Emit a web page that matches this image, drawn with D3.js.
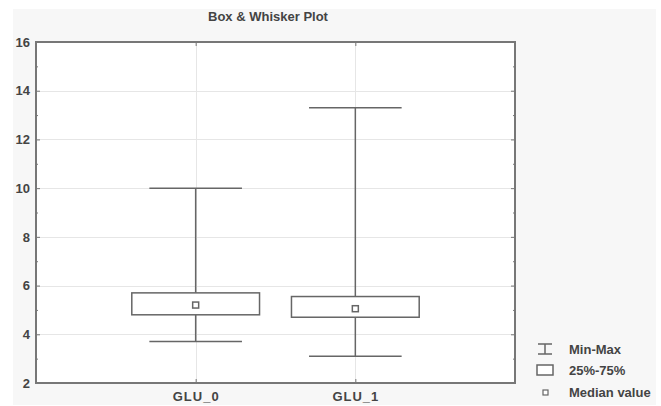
<!DOCTYPE html>
<html>
<head>
<meta charset="utf-8">
<script src="https://cdn.jsdelivr.net/npm/d3@7"></script>
<style>
  html, body { margin: 0; padding: 0; background: #ffffff; }
  svg { display: block; }
  text { font-family: "Liberation Sans", Arial, sans-serif; fill: #444; }
</style>
</head>
<body>
<svg id="chart" width="661" height="406"></svg>
<script>
// Summary statistics per variable
const categories = ["GLU_0", "GLU_1"];
const minValues = [3.7, 3.1];
const q1Values = [4.8, 4.7];
const medianValues = [5.2, 5.05];
const q3Values = [5.7, 5.55];
const maxValues = [10.0, 13.3];
const yTicks = [2, 4, 6, 8, 10, 12, 14, 16];
const yMinorTicks = [3, 5, 7, 9, 11, 13, 15];
const legendLabels = ["Min-Max", "25%-75%", "Median value"];

const svg = d3.select("#chart");
const plot = { left: 36, top: 42, right: 515, bottom: 383 };
const textColor = "#505050";

// Panel background
svg.append("rect").attr("x", 13).attr("y", 9).attr("width", 643).attr("height", 396)
  .attr("fill", "#f7f7f7");
svg.append("rect").attr("x", plot.left).attr("y", plot.top)
  .attr("width", plot.right - plot.left).attr("height", plot.bottom - plot.top)
  .attr("fill", "#ffffff");

const x = d3.scalePoint().domain(categories).range([plot.left, plot.right]).padding(1);
const y = d3.scaleLinear().domain([2, 16]).range([plot.bottom, plot.top]);
const step = x.step();
const boxHalf = step * 0.4;
const capHalf = step * 0.29;

// Grid
const grid = svg.append("g").attr("stroke", "#e6e6e6").attr("stroke-width", 1);
grid.selectAll("line.h").data(yTicks.slice(1, -1)).join("line")
  .attr("x1", plot.left).attr("x2", plot.right)
  .attr("y1", d => Math.round(y(d)) + 0.5).attr("y2", d => Math.round(y(d)) + 0.5);
grid.selectAll("line.v").data(categories).join("line")
  .attr("x1", d => Math.round(x(d)) + 0.5).attr("x2", d => Math.round(x(d)) + 0.5)
  .attr("y1", plot.top).attr("y2", plot.bottom);

// Axes (ticks pointing inward)
const yAxisL = d3.axisLeft(y).tickValues(yTicks).tickSize(-4).tickPadding(6).tickFormat(d3.format("d"));
const gL = svg.append("g").attr("transform", `translate(${plot.left},0)`).call(yAxisL);
const yAxisR = d3.axisRight(y).tickValues(yTicks).tickSize(-4).tickFormat("");
const gR = svg.append("g").attr("transform", `translate(${plot.right},0)`).call(yAxisR);
const minorL = d3.axisLeft(y).tickValues(yMinorTicks).tickSize(-2).tickFormat("");
const gmL = svg.append("g").attr("transform", `translate(${plot.left},0)`).call(minorL);
const minorR = d3.axisRight(y).tickValues(yMinorTicks).tickSize(-2).tickFormat("");
const gmR = svg.append("g").attr("transform", `translate(${plot.right},0)`).call(minorR);
const xAxisB = d3.axisBottom(x).tickSize(-4).tickPadding(9);
const gB = svg.append("g").attr("transform", `translate(0,${plot.bottom})`).call(xAxisB);
const xAxisT = d3.axisTop(x).tickSize(-4).tickFormat("");
const gT = svg.append("g").attr("transform", `translate(0,${plot.top})`).call(xAxisT);

[gL, gR, gmL, gmR, gB, gT].forEach(g => {
  g.select(".domain").remove();
  g.selectAll(".tick line").attr("stroke", "#777").attr("stroke-width", 1);
  g.selectAll("text").attr("font-size", 13).attr("font-weight", "bold").attr("fill", textColor)
    .style("font-family", "'Liberation Sans', Arial, sans-serif");
});
gB.selectAll("text").style("letter-spacing", "1px");

// Frame
svg.append("rect").attr("x", plot.left).attr("y", plot.top)
  .attr("width", plot.right - plot.left).attr("height", plot.bottom - plot.top)
  .attr("fill", "none").attr("stroke", "#777").attr("stroke-width", 2);

// Boxes
const stroke = "#666";
const boxes = svg.append("g");
categories.forEach((c, i) => {
  const cx = x(c);
  const g = boxes.append("g");
  // whisker stems
  g.append("line").attr("x1", cx).attr("x2", cx)
    .attr("y1", y(maxValues[i])).attr("y2", y(q3Values[i]))
    .attr("stroke", stroke).attr("stroke-width", 1.5);
  g.append("line").attr("x1", cx).attr("x2", cx)
    .attr("y1", y(q1Values[i])).attr("y2", y(minValues[i]))
    .attr("stroke", stroke).attr("stroke-width", 1.5);
  // caps
  [maxValues[i], minValues[i]].forEach(v => {
    g.append("line").attr("x1", cx - capHalf).attr("x2", cx + capHalf)
      .attr("y1", y(v)).attr("y2", y(v))
      .attr("stroke", stroke).attr("stroke-width", 1.5);
  });
  // box
  g.append("rect").attr("x", cx - boxHalf).attr("y", y(q3Values[i]))
    .attr("width", boxHalf * 2).attr("height", y(q1Values[i]) - y(q3Values[i]))
    .attr("fill", "#fff").attr("stroke", stroke).attr("stroke-width", 1.5);
  // median
  g.append("rect").attr("x", cx - 3).attr("y", y(medianValues[i]) - 3)
    .attr("width", 6).attr("height", 6)
    .attr("fill", "#fff").attr("stroke", stroke).attr("stroke-width", 1.5);
});

// Title
svg.append("text").attr("x", 268).attr("y", 21).attr("text-anchor", "middle")
  .attr("font-size", 13).attr("font-weight", "bold").attr("fill", textColor)
  .text("Box & Whisker Plot");

// Legend
const lg = svg.append("g");
const ly = [349, 370, 392];
// Min-Max symbol
lg.append("line").attr("x1", 538).attr("x2", 552).attr("y1", ly[0] - 5).attr("y2", ly[0] - 5).attr("stroke", stroke).attr("stroke-width", 1.5);
lg.append("line").attr("x1", 538).attr("x2", 552).attr("y1", ly[0] + 5).attr("y2", ly[0] + 5).attr("stroke", stroke).attr("stroke-width", 1.5);
lg.append("line").attr("x1", 545).attr("x2", 545).attr("y1", ly[0] - 5).attr("y2", ly[0] + 5).attr("stroke", stroke).attr("stroke-width", 1.5);
// 25%-75% symbol
lg.append("rect").attr("x", 537).attr("y", ly[1] - 5).attr("width", 16).attr("height", 10)
  .attr("fill", "#fff").attr("stroke", stroke).attr("stroke-width", 1.5);
// Median symbol
lg.append("rect").attr("x", 543).attr("y", ly[2] - 2).attr("width", 5).attr("height", 5)
  .attr("fill", "#fff").attr("stroke", stroke).attr("stroke-width", 1.2);
lg.selectAll("text").data(legendLabels).join("text")
  .attr("x", 569).attr("y", (d, i) => ly[i] + 5)
  .attr("font-size", 13).attr("font-weight", "bold").attr("fill", textColor)
  .text(d => d);
</script>
</body>
</html>
